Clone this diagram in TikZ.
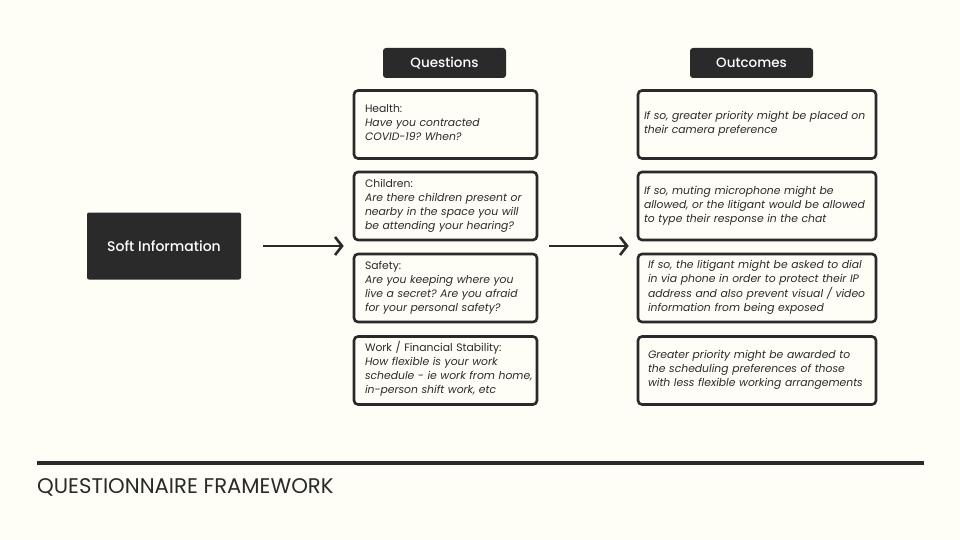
\documentclass[tikz,border=0pt]{standalone}
\usepackage{fontspec}
\setmainfont{Poppins}
\newfontface\headfont{Poppins Medium}
\usetikzlibrary{arrows.meta, positioning}
\definecolor{paper}{HTML}{FEFEF6}
\definecolor{ink}{HTML}{2A2A2A}
\frenchspacing
\newcommand\boxlines[1]{\begin{tabular}{@{}l@{}}#1\\[1.5pt]\end{tabular}}

\begin{document}
\begin{tikzpicture}[x=1pt,y=-1pt,
  header/.style={fill=ink, text=white, rounded corners=3pt, minimum width=123pt, minimum height=30pt, inner sep=0pt, font=\headfont\fontsize{13.5}{16}\selectfont},
  qbox/.style={draw=ink, line width=2.6pt, rounded corners=4pt, fill=paper, text=ink, minimum width=183pt, minimum height=68pt, text width=161pt, inner xsep=11pt, align=left, font=\fontsize{10.8}{14}\selectfont},
  obox/.style={qbox, minimum width=238pt, text width=226pt, inner xsep=6pt},
  arr/.style={draw=ink, line width=2.6pt, -{Straight Barb[length=7pt,width=18pt]}}]
\useasboundingbox[fill=paper] (0,0) rectangle (960,540);
% column headers
\node[header] (hq) at (444.5,63) {Questions};
\node[header] (ho) at (751.5,63) {Outcomes};
% questions
\node[qbox] (q1) at (445.5,124.5) {\boxlines{Health:\\\itshape Have you contracted\\\itshape COVID-19? When?}};
\node[qbox] (q2) at (445.5,206) {\boxlines{Children:\\\itshape Are there children present or\\\itshape nearby in the space you will\\\itshape be attending your hearing?}};
\node[qbox] (q3) at (445.5,288) {\boxlines{Safety:\\\itshape Are you keeping where you\\\itshape live a secret? Are you afraid\\\itshape for your personal safety?}};
\node[qbox] (q4) at (445.5,370.5) {\boxlines{Work / Financial Stability:\\\itshape How flexible is your work\\\itshape schedule - ie work from home,\\\itshape in-person shift work, etc}};
% outcomes
\node[obox] (o1) at (757,124.5) {\boxlines{\itshape If so, greater priority might be placed on\\\itshape their camera preference}};
\node[obox] (o2) at (757,206) {\boxlines{\itshape If so, muting microphone might be\\\itshape allowed, or the litigant would be allowed\\\itshape to type their response in the chat}};
\node[obox, inner xsep=10pt, text width=218pt] (o3) at (757,288) {\boxlines{\itshape If so, the litigant might be asked to dial\\\itshape in via phone in order to protect their IP\\\itshape address and also prevent visual / video\\\itshape information from being exposed}};
\node[obox, inner xsep=10pt, text width=218pt] (o4) at (757,370.5) {\boxlines{\itshape Greater priority might be awarded to\\\itshape the scheduling preferences of those\\\itshape with less flexible working arrangements}};
% source
\node[fill=ink, text=white, rounded corners=2pt, minimum width=154pt, minimum height=67pt, font=\headfont\fontsize{14}{16}\selectfont] (soft) at (164,246) {Soft Information};
\draw[arr, shorten <=22pt, shorten >=9pt] (soft.east) -- (soft.east -| q1.west);
\draw[arr, shorten <=11pt, shorten >=8pt] (soft.east -| q1.east) -- (soft.east -| o1.west);
% footer
\coordinate (rl) at (37,463);
\coordinate (rr) at (924,463);
\draw[ink, line width=4pt] (rl) -- (rr);
\node[anchor=west, inner sep=0pt, text=ink, font=\fontsize{21.2}{24}\selectfont] (title) at (37,487) {QUESTIONNAIRE FRAMEWORK};
\end{tikzpicture}
\end{document}
